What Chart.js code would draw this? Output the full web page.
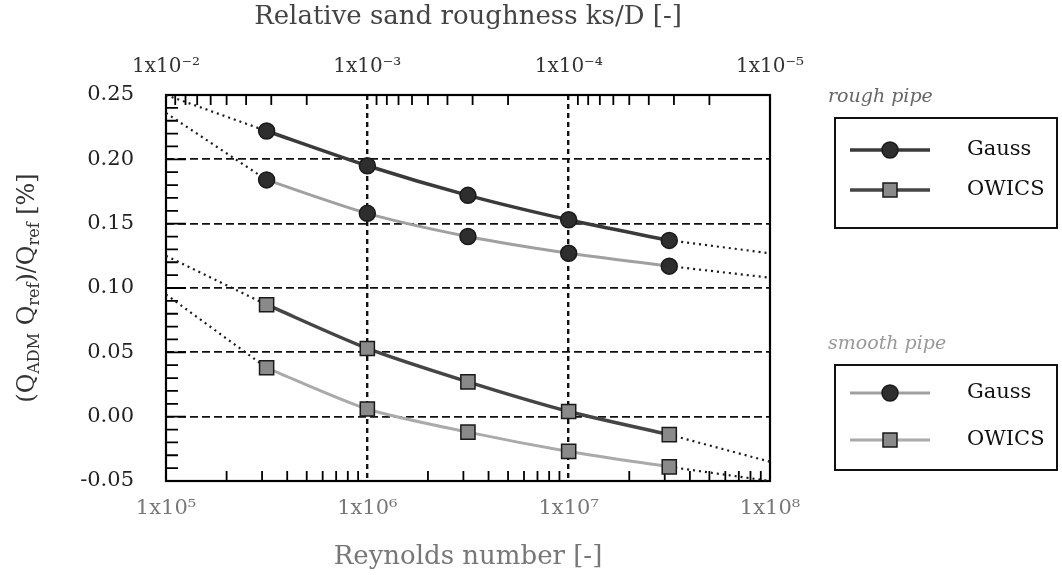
<!DOCTYPE html>
<html>
<head>
<meta charset="utf-8">
<script src="https://cdn.jsdelivr.net/npm/chart.js@4/dist/chart.umd.min.js"></script>
<style>
  html, body { margin: 0; padding: 0; background: #fff; }
  #wrap { width: 1062px; height: 575px; }
</style>
</head>
<body>
<div id="wrap"><canvas id="chart" width="1062" height="575"></canvas></div>
<script>
// Reynolds numbers of the computed points
const reynolds = [3.16e5, 1e6, 3.16e6, 1e7, 3.16e7];
// deviation (Q_ADM - Q_ref)/Q_ref in %
const gaussRough = [0.222, 0.195, 0.172, 0.153, 0.137];
const gaussSmooth = [0.184, 0.158, 0.140, 0.127, 0.117];
const owicsRough = [0.087, 0.053, 0.027, 0.004, -0.014];
const owicsSmooth = [0.038, 0.006, -0.012, -0.027, -0.039];
// dotted extrapolation to the ends of the Reynolds range
const extrapRe = [1e5, 1e8];
const gaussRoughEnds = [0.250, 0.127];
const gaussSmoothEnds = [0.236, 0.108];
const owicsRoughEnds = [0.125, -0.035];
const owicsSmoothEnds = [0.095, -0.050];
// axis ticks
const reTicks = [1e5, 1e6, 1e7, 1e8];
const reLabels = ['1x10⁵', '1x10⁶', '1x10⁷', '1x10⁸'];
const ksTicks = [1e-2, 1e-3, 1e-4, 1e-5];
const ksLabels = ['1x10⁻²', '1x10⁻³', '1x10⁻⁴', '1x10⁻⁵'];

const FONT = '"DejaVu Serif", "Liberation Serif", serif';

const pts = (xs, ys) => xs.map((x, i) => ({ x: x, y: ys[i] }));
const dotted = (xs, ys) => ({
    data: pts(xs, ys),
    borderColor: '#1a1a1a',
    borderWidth: 2.2,
    borderDash: [2, 4],
    pointRadius: 0,
    fill: false
});

const series = [
    { data: gaussRough, color: '#3a3a3a', width: 3.5, style: 'circle' },
    { data: gaussSmooth, color: '#a0a0a0', width: 3, style: 'circle' },
    { data: owicsRough, color: '#454545', width: 3.5, style: 'rect' },
    { data: owicsSmooth, color: '#aaaaaa', width: 3, style: 'rect' }
];

const mainSets = series.map(s => ({
    data: pts(reynolds, s.data),
    borderColor: s.color,
    borderWidth: s.width,
    tension: 0.25,
    pointStyle: s.style,
    pointRadius: s.style === 'circle' ? 8 : 10,
    pointBackgroundColor: s.style === 'circle' ? '#2e2e2e' : '#8a8a8a',
    pointBorderColor: '#1a1a1a',
    pointBorderWidth: 1.5,
    fill: false
}));

const extrapSets = [
    dotted([extrapRe[0], reynolds[0]], [gaussRoughEnds[0], gaussRough[0]]),
    dotted([reynolds[4], extrapRe[1]], [gaussRough[4], gaussRoughEnds[1]]),
    dotted([extrapRe[0], reynolds[0]], [gaussSmoothEnds[0], gaussSmooth[0]]),
    dotted([reynolds[4], extrapRe[1]], [gaussSmooth[4], gaussSmoothEnds[1]]),
    dotted([extrapRe[0], reynolds[0]], [owicsRoughEnds[0], owicsRough[0]]),
    dotted([reynolds[4], extrapRe[1]], [owicsRough[4], owicsRoughEnds[1]]),
    dotted([extrapRe[0], reynolds[0]], [owicsSmoothEnds[0], owicsSmooth[0]]),
    dotted([reynolds[4], extrapRe[1]], [owicsSmooth[4], owicsSmoothEnds[1]])
];

const isDecade = v => Math.abs(Math.log10(v) - Math.round(Math.log10(v))) < 1e-6;

// frame, inward minor ticks, y title and the two legend boxes
const decorations = {
    id: 'decorations',
    beforeDatasetsDraw(chart) {
        const ctx = chart.ctx;
        const a = chart.chartArea;
        const x = chart.scales.x, x2 = chart.scales.x2, y = chart.scales.y;
        ctx.save();
        ctx.strokeStyle = '#000';
        ctx.lineWidth = 1.8;
        ctx.beginPath();
        for (let n = 5; n < 8; n++) {
            for (let k = 2; k <= 9; k++) {
                const px = x.getPixelForValue(k * Math.pow(10, n));
                ctx.moveTo(px, a.bottom); ctx.lineTo(px, a.bottom - 10);
            }
        }
        for (let n = -5; n < -2; n++) {
            for (let k = 2; k <= 9; k++) {
                const px = x2.getPixelForValue(k * Math.pow(10, n));
                ctx.moveTo(px, a.top); ctx.lineTo(px, a.top + 10);
            }
        }
        for (let i = -5; i <= 25; i++) {
            const py = y.getPixelForValue(i / 100);
            const len = i % 5 === 0 ? 20 : 12;
            ctx.moveTo(a.left, py); ctx.lineTo(a.left + len, py);
        }
        ctx.stroke();
        ctx.lineWidth = 2.2;
        ctx.strokeRect(a.left, a.top, a.right - a.left, a.bottom - a.top);
        ctx.restore();
    },
    afterDraw(chart) {
        const ctx = chart.ctx;
        const a = chart.chartArea;
        ctx.save();
        // y axis title with subscripts
        const parts = [
            ['(Q', false], ['ADM', true], [' Q', false], ['ref', true],
            [')/Q', false], ['ref', true], [' [%]', false]
        ];
        const big = '24px ' + FONT, small = '16px ' + FONT;
        let total = 0;
        parts.forEach(p => { ctx.font = p[1] ? small : big; total += ctx.measureText(p[0]).width; });
        ctx.translate(28, (a.top + a.bottom) / 2);
        ctx.rotate(-Math.PI / 2);
        ctx.fillStyle = '#333';
        ctx.textBaseline = 'middle';
        let cx = -total / 2;
        parts.forEach(p => {
            ctx.font = p[1] ? small : big;
            ctx.fillText(p[0], cx, p[1] ? 7 : 0);
            cx += ctx.measureText(p[0]).width;
        });
        ctx.restore();

        // legend groups
        const groups = [
            { title: 'rough pipe', titleColor: '#666', top: 118, bottom: 228, rows: [150, 190], sets: [0, 2] },
            { title: 'smooth pipe', titleColor: '#999', top: 365, bottom: 470, rows: [393, 440], sets: [1, 3] }
        ];
        ctx.save();
        groups.forEach(g => {
            ctx.font = 'italic 19px ' + FONT;
            ctx.fillStyle = g.titleColor;
            ctx.textBaseline = 'middle';
            ctx.textAlign = 'left';
            ctx.fillText(g.title, 828, g.top - 21);
            ctx.strokeStyle = '#111';
            ctx.lineWidth = 2;
            ctx.strokeRect(835, g.top, 222, g.bottom - g.top);
            g.rows.forEach((ry, j) => {
                const s = series[g.sets[j]];
                ctx.strokeStyle = s.color;
                ctx.lineWidth = s.width;
                ctx.beginPath();
                ctx.moveTo(850, ry); ctx.lineTo(930, ry);
                ctx.stroke();
                ctx.lineWidth = 1.5;
                ctx.strokeStyle = '#1a1a1a';
                ctx.beginPath();
                if (s.style === 'circle') {
                    ctx.fillStyle = '#2e2e2e';
                    ctx.arc(890, ry, 8, 0, Math.PI * 2);
                } else {
                    ctx.fillStyle = '#8a8a8a';
                    ctx.rect(883, ry - 7, 14, 14);
                }
                ctx.fill(); ctx.stroke();
                ctx.font = '21px ' + FONT;
                ctx.fillStyle = '#111';
                ctx.fillText(j === 0 ? 'Gauss' : 'OWICS', 967, ry);
            });
        });
        ctx.restore();
    }
};

const ctx = document.getElementById('chart').getContext('2d');
new Chart(ctx, {
    type: 'line',
    data: { datasets: mainSets.concat(extrapSets) },
    options: {
        responsive: false,
        animation: false,
        layout: { padding: { left: 0, right: 292, top: 0, bottom: 0 } },
        plugins: { legend: { display: false }, tooltip: { enabled: false } },
        scales: {
            x: {
                type: 'logarithmic',
                position: 'bottom',
                min: reTicks[0],
                max: reTicks[reTicks.length - 1],
                afterBuildTicks: s => { s.ticks = s.ticks.filter(t => isDecade(t.value)); },
                afterFit: s => { s.height = 94; },
                ticks: {
                    autoSkip: false,
                    maxRotation: 0,
                    padding: 15,
                    color: '#777',
                    font: { family: FONT, size: 21 },
                    callback: v => reLabels[reTicks.findIndex(t => Math.abs(t - v) / t < 1e-6)] || ''
                },
                grid: {
                    drawTicks: false,
                    lineWidth: 2.4,
                    color: c => (c.tick && (c.tick.value <= 1e5 * 1.0001 || c.tick.value >= 1e8 * 0.9999)) ? 'rgba(0,0,0,0)' : '#111'
                },
                border: { display: false, dash: [5, 4] },
                title: {
                    display: true,
                    text: 'Reynolds number [-]',
                    color: '#777',
                    font: { family: FONT, size: 26 },
                    padding: { top: 6, bottom: 2 }
                }
            },
            x2: {
                type: 'logarithmic',
                position: 'top',
                reverse: true,
                display: true,
                min: ksTicks[ksTicks.length - 1],
                max: ksTicks[0],
                afterBuildTicks: s => { s.ticks = s.ticks.filter(t => isDecade(t.value)); },
                afterFit: s => { s.height = 95; },
                ticks: {
                    autoSkip: false,
                    maxRotation: 0,
                    padding: 16,
                    color: '#333',
                    font: { family: FONT, size: 20 },
                    callback: v => ksLabels[ksTicks.findIndex(t => Math.abs(t - v) / t < 1e-6)] || ''
                },
                grid: { display: false, drawTicks: false },
                border: { display: false },
                title: {
                    display: true,
                    text: 'Relative sand roughness ks/D [-]',
                    color: '#444',
                    font: { family: FONT, size: 26 },
                    padding: { top: 2, bottom: 2 }
                }
            },
            y: {
                min: -0.05,
                max: 0.25,
                afterFit: s => { s.width = 166; },
                ticks: {
                    stepSize: 0.05,
                    padding: 32,
                    color: '#222',
                    font: { family: FONT, size: 21 },
                    callback: v => (Math.abs(v) < 1e-9 ? 0 : v).toFixed(2)
                },
                grid: {
                    drawTicks: false,
                    lineWidth: 1.8,
                    color: c => (c.tick && (c.tick.value <= -0.0499 || c.tick.value >= 0.2499)) ? 'rgba(0,0,0,0)' : '#111'
                },
                border: { display: false, dash: [8, 4] }
            }
        }
    },
    plugins: [decorations]
});
</script>
</body>
</html>
